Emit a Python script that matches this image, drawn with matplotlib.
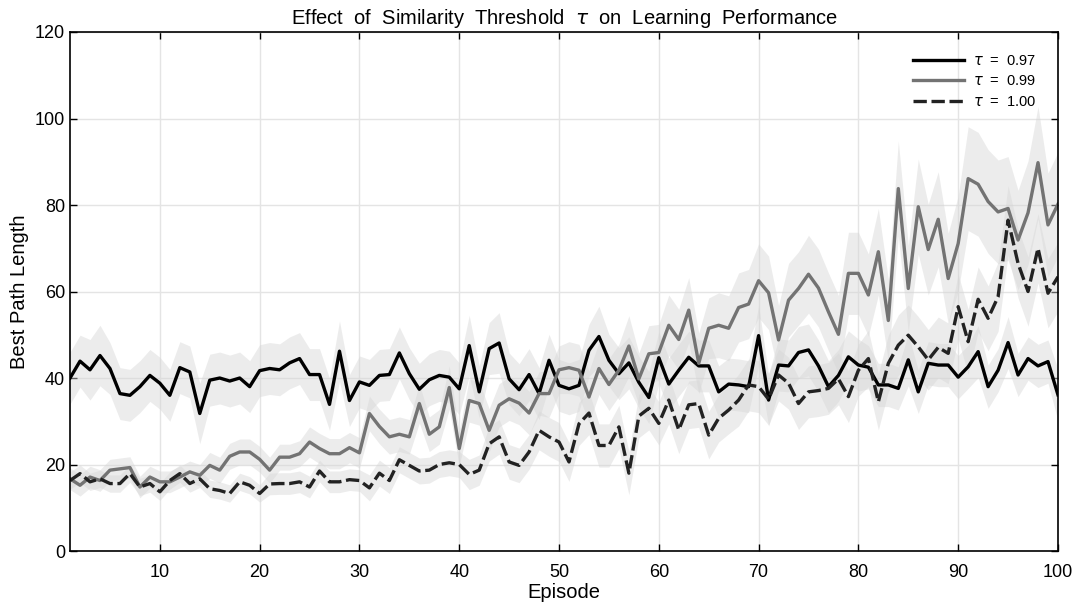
import numpy as np
import matplotlib
matplotlib.use('Agg')
import matplotlib.pyplot as plt

episodes = np.arange(1, 101)

# tau = 0.97
t097 = [40.0, 43.9, 41.9, 45.2, 42.2, 36.4, 36.0, 38.0, 40.6, 38.8,
        36.0, 42.4, 41.4, 31.8, 39.5, 40.0, 39.3, 40.0, 38.0, 41.7,
        42.2, 41.9, 43.5, 44.5, 40.8, 40.8, 33.9, 46.2, 34.8, 39.1,
        38.3, 40.6, 40.8, 45.8, 41.0, 37.4, 39.6, 40.6, 40.2, 37.5,
        47.5, 36.8, 46.8, 48.1, 39.8, 37.3, 40.8, 36.4, 44.1, 38.3,
        37.5, 38.3, 46.4, 49.6, 44.1, 41.0, 43.5, 39.0, 35.5, 44.7,
        38.6, 41.8, 44.8, 42.8, 42.8, 36.8, 38.6, 38.4, 38.0, 49.8,
        34.9, 43.0, 42.8, 45.9, 46.5, 42.8, 38.0, 40.6, 44.9, 43.0,
        42.5, 38.4, 38.4, 37.6, 44.2, 36.8, 43.4, 43.0, 43.0, 40.2,
        42.6, 46.1, 38.0, 41.8, 48.2, 40.7, 44.5, 42.8, 43.8, 36.1]
t097_sd = [6, 6, 7, 7, 6, 6, 6, 6, 6, 6,
           6, 6, 6, 7, 6, 6, 6, 6, 6, 6,
           6, 6, 6, 6, 6, 6, 6, 7, 6, 6,
           6, 6, 6, 6, 6, 6, 6, 6, 6, 6,
           7, 6, 6, 7, 6, 6, 6, 6, 6, 6,
           6, 6, 6, 7, 6, 6, 6, 6, 6, 6,
           6, 6, 6, 6, 6, 6, 6, 6, 6, 7,
           6, 6, 6, 6, 6, 6, 6, 6, 6, 6,
           5, 5, 5, 5, 6, 5, 5, 5, 5, 5,
           5, 6, 5, 5, 6, 5, 5, 5, 5, 6]

# tau = 0.99
t099 = [16.7, 15.2, 17.1, 16.3, 18.7, 19.0, 19.3, 14.8, 17.1, 16.0,
        16.0, 17.1, 18.3, 17.5, 19.8, 18.7, 21.9, 22.9, 22.9, 21.2,
        18.7, 21.7, 21.7, 22.5, 25.2, 23.7, 22.5, 22.5, 23.9, 22.7,
        31.8, 28.8, 26.4, 27.0, 26.4, 34.1, 27.0, 28.7, 37.8, 23.7,
        34.8, 34.1, 27.9, 33.7, 35.2, 34.2, 31.9, 36.4, 36.4, 41.9,
        42.4, 41.8, 35.6, 42.2, 38.5, 41.8, 47.4, 39.8, 45.6, 45.9,
        52.2, 48.9, 55.7, 43.4, 51.5, 52.2, 51.5, 56.3, 57.1, 62.5,
        59.7, 48.8, 58.0, 60.7, 64.0, 60.8, 55.3, 50.1, 64.2, 64.2,
        59.2, 69.2, 53.3, 83.8, 60.7, 79.6, 69.7, 76.7, 63.0, 71.1,
        86.1, 84.8, 80.8, 78.4, 79.2, 71.9, 78.2, 89.8, 75.4, 80.2]
t099_sd = [2.5, 2.5, 2.5, 2.5, 2.5, 2.5, 2.5, 2.5, 2.5, 2.5,
           2.5, 2.5, 2.5, 2.5, 3, 3, 3, 3, 3, 3,
           3, 3, 3, 3, 3.5, 3.5, 3.5, 3.5, 3.5, 3.5,
           4, 4, 4, 4, 4, 4.5, 4, 4, 5, 4,
           5, 5, 5, 5, 5, 5, 5, 5, 5.5, 5.5,
           6, 6, 6, 6, 6, 6, 7, 6, 6.5, 6.5,
           7, 7, 7.5, 7, 7, 7.5, 7.5, 8, 8, 8.5,
           8.5, 8, 8.5, 8.5, 9, 9, 9, 9, 9.5, 9.5,
           9.5, 10, 9.5, 11, 10, 11, 10.5, 11, 10.5, 11,
           12, 12, 12, 12, 12, 11.5, 12, 13, 12, 12]

# tau = 1.00
t100 = [16.3, 17.9, 16.0, 16.7, 15.6, 15.6, 17.9, 14.8, 15.6, 13.7,
        16.3, 17.9, 15.6, 16.7, 14.4, 14.0, 13.3, 16.0, 15.2, 13.3,
        15.5, 15.6, 15.6, 16.0, 14.8, 18.5, 16.0, 16.0, 16.5, 16.3,
        14.6, 18.0, 16.3, 21.1, 19.8, 18.5, 18.7, 20.0, 20.4, 20.0,
        17.7, 18.7, 24.8, 26.4, 20.6, 19.8, 22.9, 27.9, 26.4, 25.2,
        20.6, 29.4, 31.9, 24.4, 24.4, 28.7, 18.0, 31.2, 33.0, 29.5,
        34.9, 28.0, 33.8, 34.1, 26.8, 30.7, 32.6, 34.9, 38.4, 38.0,
        35.1, 40.7, 38.8, 34.1, 36.8, 37.1, 37.6, 39.8, 35.7, 41.8,
        44.5, 34.5, 43.4, 47.6, 49.9, 47.2, 44.2, 47.1, 45.7, 56.5,
        48.4, 58.2, 53.8, 58.8, 76.5, 66.5, 60.0, 70.0, 59.6, 63.4]
t100_sd = [2, 2, 2, 2, 2, 2, 2, 2, 2, 2,
           2, 2, 2, 2, 2, 2, 2, 2, 2, 2,
           2.5, 2.5, 2.5, 2.5, 2.5, 2.5, 2.5, 2.5, 2.5, 2.5,
           3, 3, 3, 3, 3, 3, 3, 3, 3, 3,
           3.5, 3.5, 4, 4, 4, 4, 4, 4.5, 4.5, 4.5,
           4.5, 5, 5, 5, 5, 5, 5, 5, 5, 5,
           5.5, 5.5, 5.5, 5.5, 5.5, 5.5, 5.5, 6, 6, 6,
           6, 6, 6, 6, 6, 6, 6, 6, 6, 6,
           6.5, 6.5, 6.5, 7, 7, 7, 7, 7, 7, 7.5,
           7.5, 7.5, 7.5, 8, 8, 8, 8, 8, 8, 8]

series = [
    (t097, t097_sd, r'$\tau$  =  0.97', '#000000', '-'),
    (t099, t099_sd, r'$\tau$  =  0.99', '#737373', '-'),
    (t100, t100_sd, r'$\tau$  =  1.00', '#222222', (0, (4, 1.4))),
]

plt.rcParams['font.family'] = ['Liberation Sans', 'DejaVu Sans']
plt.rcParams['mathtext.fontset'] = 'dejavusans'

fig = plt.figure(figsize=(10.81, 6.13), dpi=100)
ax = fig.add_axes([0.0648, 0.1011, 0.9139, 0.8467])

for vals, sd, lab, col, ls in series:
    v = np.array(vals)
    s = np.array(sd)
    ax.fill_between(episodes, v - s, v + s, color='#d6d6d6', alpha=0.45, lw=0)

for vals, sd, lab, col, ls in series:
    ax.plot(episodes, vals, color=col, ls=ls, lw=2.4, label=lab)

ax.set_xlim(1, 100)
ax.set_ylim(0, 120)
ax.set_xticks(range(10, 101, 10))
ax.set_yticks(range(0, 121, 20))
ax.grid(True, color='#e4e4e4', lw=1.0)
ax.set_axisbelow(True)
ax.tick_params(direction='in', top=True, right=True, length=5, width=1, labelsize=13)
ax.tick_params(axis='x', pad=9)
for sp in ax.spines.values():
    sp.set_linewidth(1.2)

ax.set_xlabel('Episode', fontsize=14.5, labelpad=2)
ax.set_ylabel('Best Path Length', fontsize=14.5, labelpad=4)
ax.set_title(r'Effect  of  Similarity  Threshold  $\tau$  on  Learning  Performance', fontsize=14.5, pad=6)

leg = ax.legend(loc='upper right', frameon=False, fontsize=10.5, handlelength=3.5,
                borderaxespad=1.1, labelspacing=0.45, handletextpad=0.6)

plt.savefig('out.png', dpi=100)
plt.close()
